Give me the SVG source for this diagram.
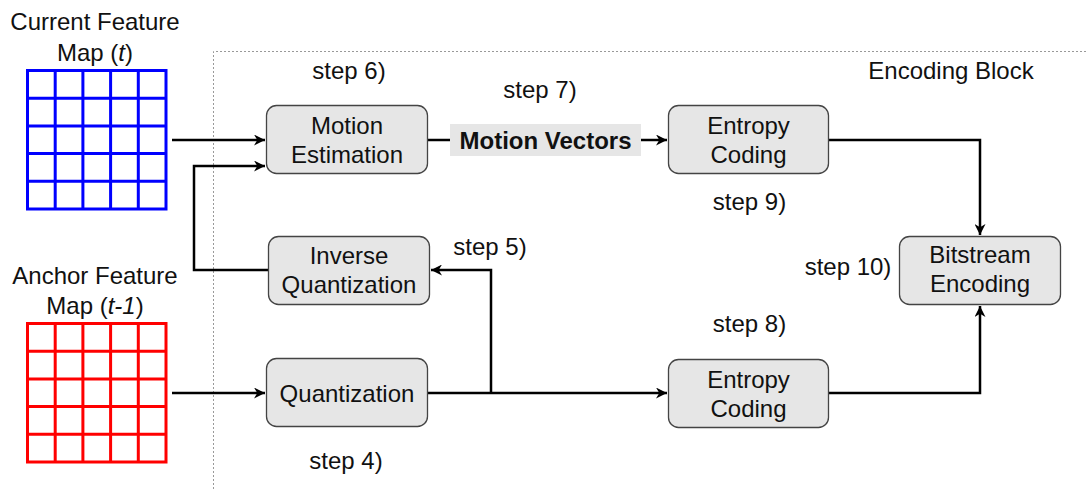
<svg xmlns="http://www.w3.org/2000/svg" width="1086" height="489" viewBox="0 0 1086 489">
  <defs>
    <marker id="arrow" viewBox="0 0 10 10" refX="10" refY="5" markerWidth="11" markerHeight="11" markerUnits="userSpaceOnUse" orient="auto">
      <path d="M0,0 L10,5 L0,10 L3,5 Z" fill="#000"/>
    </marker>
    <style>
      text { font-family: "Liberation Sans", Arial, sans-serif; font-size: 24px; fill: #111; }
      .box { fill: #e6e6e6; stroke: #444; stroke-width: 1.3; }
      .lbl { text-anchor: middle; }
      .wire { fill: none; stroke: #000; stroke-width: 2.5; }
      .grid-blue { fill: #fff; stroke: #0000ff; stroke-width: 3; }
      .grid-red { fill: #fff; stroke: #ff0000; stroke-width: 3; }
    </style>
  </defs>
  <rect width="1086" height="489" fill="#fff"/>

  <!-- encoding block frame -->
  <g id="encoding-block">
    <path d="M213.5,489 V51.5 H1086" fill="none" stroke="#999" stroke-width="1" stroke-dasharray="2,2"/>
    <text x="951" y="79" class="lbl">Encoding Block</text>
  </g>

  <!-- current feature map -->
  <g id="current-map">
    <text x="95" y="30" class="lbl">Current Feature</text>
    <text x="95" y="61" class="lbl">Map (<tspan font-style="italic">t</tspan>)</text>
    <rect x="27.5" y="70.5" width="138.5" height="138.5" class="grid-blue"/>
    <path d="M55.2,70.5V209M82.9,70.5V209M110.6,70.5V209M138.3,70.5V209M27.5,98.2H166M27.5,125.9H166M27.5,153.6H166M27.5,181.3H166" stroke="#0000ff" stroke-width="3" fill="none"/>
  </g>

  <!-- anchor feature map -->
  <g id="anchor-map">
    <text x="95" y="284" class="lbl">Anchor Feature</text>
    <text x="95" y="314" class="lbl">Map (<tspan font-style="italic">t-1</tspan>)</text>
    <rect x="27.5" y="323.5" width="138.5" height="138.5" class="grid-red"/>
    <path d="M55.2,323.5V462M82.9,323.5V462M110.6,323.5V462M138.3,323.5V462M27.5,351.2H166M27.5,378.9H166M27.5,406.6H166M27.5,434.3H166" stroke="#ff0000" stroke-width="3" fill="none"/>
  </g>

  <!-- connectors -->
  <g id="connectors">
    <path d="M172,140 H265" class="wire" marker-end="url(#arrow)"/>
    <path d="M268,270 H194 V166 H265" class="wire" marker-end="url(#arrow)"/>
    <path d="M428,140 H450" class="wire"/>
    <path d="M641,140 H667" class="wire" marker-end="url(#arrow)"/>
    <path d="M829,140 H980 V235" class="wire" marker-end="url(#arrow)"/>
    <path d="M172,393 H265" class="wire" marker-end="url(#arrow)"/>
    <path d="M428,393 H667" class="wire" marker-end="url(#arrow)"/>
    <path d="M491,393 V270 H431" class="wire" marker-end="url(#arrow)"/>
    <path d="M829,393 H980 V306" class="wire" marker-end="url(#arrow)"/>
  </g>

  <!-- motion vectors label -->
  <g id="motion-vectors">
    <rect x="450" y="124" width="191" height="32" fill="#e6e6e6"/>
    <text x="545.5" y="149" class="lbl" font-weight="bold">Motion Vectors</text>
  </g>

  <g id="motion-estimation">
    <rect x="266.5" y="105.5" width="161" height="68" rx="10" class="box"/>
    <text x="347" y="134" class="lbl">Motion</text>
    <text x="347" y="163" class="lbl">Estimation</text>
  </g>

  <g id="inverse-quantization">
    <rect x="268.5" y="236.5" width="161" height="68" rx="10" class="box"/>
    <text x="349" y="264" class="lbl">Inverse</text>
    <text x="349" y="293" class="lbl">Quantization</text>
  </g>

  <g id="quantization">
    <rect x="266.5" y="358.5" width="161" height="68" rx="10" class="box"/>
    <text x="347" y="402" class="lbl">Quantization</text>
  </g>

  <g id="entropy-coding-mv">
    <rect x="668.5" y="105.5" width="160" height="68" rx="10" class="box"/>
    <text x="748.5" y="134" class="lbl">Entropy</text>
    <text x="748.5" y="163" class="lbl">Coding</text>
  </g>

  <g id="entropy-coding-q">
    <rect x="668.5" y="359.5" width="160" height="68" rx="10" class="box"/>
    <text x="748.5" y="388" class="lbl">Entropy</text>
    <text x="748.5" y="417" class="lbl">Coding</text>
  </g>

  <g id="bitstream-encoding">
    <rect x="899.5" y="236.5" width="161" height="68" rx="10" class="box"/>
    <text x="980" y="263" class="lbl">Bitstream</text>
    <text x="980" y="292" class="lbl">Encoding</text>
  </g>

  <!-- step annotations -->
  <g id="steps">
    <text x="349" y="79" class="lbl">step 6)</text>
    <text x="540" y="98" class="lbl">step 7)</text>
    <text x="749.5" y="210" class="lbl">step 9)</text>
    <text x="490" y="255" class="lbl">step 5)</text>
    <text x="848" y="275" class="lbl">step 10)</text>
    <text x="749.5" y="332" class="lbl">step 8)</text>
    <text x="346" y="469" class="lbl">step 4)</text>
  </g>
</svg>
